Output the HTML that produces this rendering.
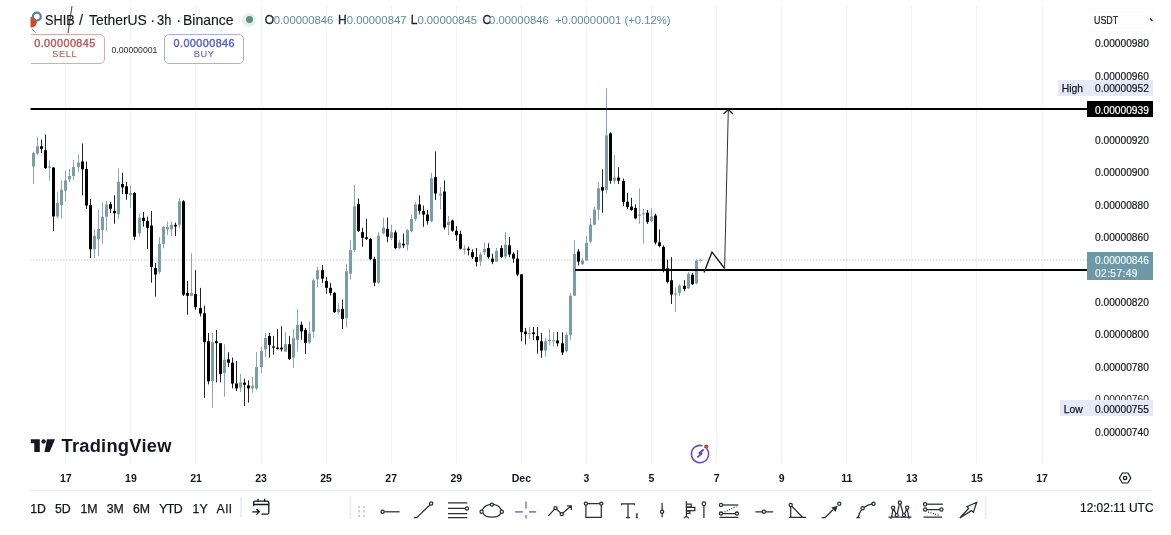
<!DOCTYPE html>
<html><head><meta charset="utf-8">
<style>
*{margin:0;padding:0;box-sizing:border-box}
html,body{width:1171px;height:535px;overflow:hidden;background:#fff}
body{position:relative;font-family:"Liberation Sans",Arial,sans-serif;color:#131722}
.a{position:absolute;white-space:nowrap;line-height:1}
.pl{position:absolute;left:1095px;font-size:10.2px;color:#131722;line-height:1;-webkit-text-stroke:0.2px currentColor}
.tl{position:absolute;top:472.8px;font-size:10.5px;font-weight:bold;color:#131722;line-height:1;transform:translateX(-50%)}
.rb{position:absolute;top:503px;font-size:12.3px;color:#131722;line-height:1;-webkit-text-stroke:0.25px #131722}
.v{color:#5e8d9c}
.hd{top:12.6px;font-size:14.6px;color:#131722;transform-origin:0 0;-webkit-text-stroke:0.15px #131722}
</style></head><body>
<svg class="a" style="left:0;top:0" width="1171" height="535" viewBox="0 0 1171 535">
<defs><clipPath id="cp"><rect x="30.5" y="6" width="1056.5" height="457"/></clipPath></defs>
<g clip-path="url(#cp)">
<rect x="65" y="6" width="1" height="457" fill="#f3f4f6"/>
<rect x="130" y="6" width="1" height="457" fill="#f3f4f6"/>
<rect x="195" y="6" width="1" height="457" fill="#f3f4f6"/>
<rect x="261" y="6" width="1" height="457" fill="#f3f4f6"/>
<rect x="326" y="6" width="1" height="457" fill="#f3f4f6"/>
<rect x="391" y="6" width="1" height="457" fill="#f3f4f6"/>
<rect x="456" y="6" width="1" height="457" fill="#f3f4f6"/>
<rect x="521" y="6" width="1" height="457" fill="#f3f4f6"/>
<rect x="586" y="6" width="1" height="457" fill="#f3f4f6"/>
<rect x="651" y="6" width="1" height="457" fill="#f3f4f6"/>
<rect x="716" y="6" width="1" height="457" fill="#f3f4f6"/>
<rect x="781" y="6" width="1" height="457" fill="#f3f4f6"/>
<rect x="846" y="6" width="1" height="457" fill="#f3f4f6"/>
<rect x="911" y="6" width="1" height="457" fill="#f3f4f6"/>
<rect x="976" y="6" width="1" height="457" fill="#f3f4f6"/>
<rect x="1042" y="6" width="1" height="457" fill="#f3f4f6"/>
<line x1="30" y1="260" x2="1087" y2="260" stroke="#c6c9ce" stroke-width="1" stroke-dasharray="1.5 1.5"/>
<rect x="33" y="151.6" width="1" height="32.4" fill="#8aa9b5"/>
<rect x="32" y="153.0" width="3" height="13.5" fill="#7a9daa"/>
<rect x="37" y="136.8" width="1" height="18.5" fill="#8aa9b5"/>
<rect x="36" y="146.3" width="3" height="7.3" fill="#7a9daa"/>
<rect x="41" y="139.6" width="1" height="13.4" fill="#222"/>
<rect x="40" y="146.3" width="3" height="2.5" fill="#000000"/>
<rect x="45" y="134.5" width="1" height="34.5" fill="#222"/>
<rect x="44" y="150.3" width="3" height="17.9" fill="#000000"/>
<rect x="49" y="160.4" width="1" height="20.2" fill="#8aa9b5"/>
<rect x="48" y="166.5" width="3" height="1.2" fill="#7a9daa"/>
<rect x="53" y="167.0" width="1" height="64.0" fill="#222"/>
<rect x="52" y="167.6" width="3" height="48.8" fill="#000000"/>
<rect x="57" y="191.7" width="1" height="26.8" fill="#8aa9b5"/>
<rect x="56" y="203.0" width="3" height="13.4" fill="#7a9daa"/>
<rect x="61" y="180.4" width="1" height="38.1" fill="#8aa9b5"/>
<rect x="60" y="189.7" width="3" height="15.3" fill="#7a9daa"/>
<rect x="65" y="170.5" width="1" height="30.5" fill="#8aa9b5"/>
<rect x="64" y="180.5" width="3" height="10.2" fill="#7a9daa"/>
<rect x="69" y="169.3" width="1" height="12.7" fill="#8aa9b5"/>
<rect x="68" y="176.0" width="3" height="3.4" fill="#7a9daa"/>
<rect x="73" y="159.8" width="1" height="20.2" fill="#8aa9b5"/>
<rect x="72" y="167.1" width="3" height="8.9" fill="#7a9daa"/>
<rect x="78" y="154.4" width="1" height="17.7" fill="#8aa9b5"/>
<rect x="77" y="162.6" width="3" height="4.2" fill="#7a9daa"/>
<rect x="82" y="143.5" width="1" height="51.9" fill="#222"/>
<rect x="81" y="161.5" width="3" height="7.8" fill="#000000"/>
<rect x="86" y="161.5" width="1" height="47.4" fill="#222"/>
<rect x="85" y="169.0" width="3" height="36.5" fill="#000000"/>
<rect x="90" y="198.8" width="1" height="59.4" fill="#222"/>
<rect x="89" y="205.0" width="3" height="44.3" fill="#000000"/>
<rect x="94" y="229.0" width="1" height="29.2" fill="#8aa9b5"/>
<rect x="93" y="235.8" width="3" height="13.5" fill="#7a9daa"/>
<rect x="98" y="210.0" width="1" height="46.0" fill="#8aa9b5"/>
<rect x="97" y="229.0" width="3" height="10.2" fill="#7a9daa"/>
<rect x="102" y="202.2" width="1" height="41.5" fill="#8aa9b5"/>
<rect x="101" y="216.7" width="3" height="13.5" fill="#7a9daa"/>
<rect x="106" y="201.0" width="1" height="30.3" fill="#8aa9b5"/>
<rect x="105" y="204.4" width="3" height="12.3" fill="#7a9daa"/>
<rect x="110" y="202.0" width="1" height="11.2" fill="#222"/>
<rect x="109" y="204.2" width="3" height="4.5" fill="#000000"/>
<rect x="114" y="195.3" width="1" height="28.4" fill="#222"/>
<rect x="113" y="211.0" width="3" height="2.2" fill="#000000"/>
<rect x="118" y="168.4" width="1" height="50.4" fill="#8aa9b5"/>
<rect x="117" y="181.8" width="3" height="32.5" fill="#7a9daa"/>
<rect x="122" y="172.8" width="1" height="21.3" fill="#222"/>
<rect x="121" y="184.0" width="3" height="3.4" fill="#000000"/>
<rect x="126" y="181.8" width="1" height="18.0" fill="#222"/>
<rect x="125" y="186.3" width="3" height="7.8" fill="#000000"/>
<rect x="130" y="185.2" width="1" height="22.4" fill="#8aa9b5"/>
<rect x="129" y="193.0" width="3" height="2.0" fill="#7a9daa"/>
<rect x="134" y="192.0" width="1" height="48.1" fill="#222"/>
<rect x="133" y="193.0" width="3" height="43.7" fill="#000000"/>
<rect x="139" y="213.2" width="1" height="23.5" fill="#8aa9b5"/>
<rect x="138" y="217.7" width="3" height="15.7" fill="#7a9daa"/>
<rect x="143" y="212.0" width="1" height="14.7" fill="#222"/>
<rect x="142" y="217.7" width="3" height="3.3" fill="#000000"/>
<rect x="147" y="216.6" width="1" height="32.4" fill="#222"/>
<rect x="146" y="221.0" width="3" height="6.8" fill="#000000"/>
<rect x="151" y="211.0" width="1" height="71.7" fill="#222"/>
<rect x="150" y="225.5" width="3" height="41.5" fill="#000000"/>
<rect x="155" y="263.0" width="1" height="33.6" fill="#222"/>
<rect x="154" y="268.1" width="3" height="6.4" fill="#000000"/>
<rect x="159" y="237.2" width="1" height="37.0" fill="#8aa9b5"/>
<rect x="158" y="243.9" width="3" height="28.0" fill="#7a9daa"/>
<rect x="163" y="226.0" width="1" height="22.4" fill="#8aa9b5"/>
<rect x="162" y="227.1" width="3" height="16.8" fill="#7a9daa"/>
<rect x="167" y="221.5" width="1" height="13.4" fill="#8aa9b5"/>
<rect x="166" y="227.1" width="3" height="2.2" fill="#7a9daa"/>
<rect x="171" y="221.5" width="1" height="14.5" fill="#8aa9b5"/>
<rect x="170" y="224.8" width="3" height="4.5" fill="#7a9daa"/>
<rect x="175" y="222.6" width="1" height="13.4" fill="#222"/>
<rect x="174" y="224.8" width="3" height="1.6" fill="#000000"/>
<rect x="179" y="198.0" width="1" height="30.2" fill="#8aa9b5"/>
<rect x="178" y="201.3" width="3" height="23.5" fill="#7a9daa"/>
<rect x="183" y="200.2" width="1" height="95.8" fill="#222"/>
<rect x="182" y="201.3" width="3" height="93.3" fill="#000000"/>
<rect x="187" y="281.1" width="1" height="33.7" fill="#222"/>
<rect x="186" y="292.9" width="3" height="2.9" fill="#000000"/>
<rect x="191" y="253.4" width="1" height="42.9" fill="#8aa9b5"/>
<rect x="190" y="292.9" width="3" height="2.9" fill="#7a9daa"/>
<rect x="195" y="270.2" width="1" height="39.6" fill="#222"/>
<rect x="194" y="294.1" width="3" height="13.1" fill="#000000"/>
<rect x="200" y="287.9" width="1" height="28.6" fill="#222"/>
<rect x="199" y="308.1" width="3" height="5.4" fill="#000000"/>
<rect x="204" y="305.6" width="1" height="92.1" fill="#222"/>
<rect x="203" y="313.3" width="3" height="28.9" fill="#000000"/>
<rect x="208" y="332.9" width="1" height="51.5" fill="#222"/>
<rect x="207" y="341.2" width="3" height="40.1" fill="#000000"/>
<rect x="212" y="332.9" width="1" height="75.1" fill="#8aa9b5"/>
<rect x="211" y="342.2" width="3" height="39.1" fill="#7a9daa"/>
<rect x="216" y="329.8" width="1" height="52.5" fill="#222"/>
<rect x="215" y="341.2" width="3" height="2.0" fill="#000000"/>
<rect x="220" y="343.0" width="1" height="39.3" fill="#222"/>
<rect x="219" y="343.2" width="3" height="30.9" fill="#000000"/>
<rect x="224" y="344.2" width="1" height="52.5" fill="#8aa9b5"/>
<rect x="223" y="359.7" width="3" height="13.3" fill="#7a9daa"/>
<rect x="228" y="352.2" width="1" height="14.8" fill="#222"/>
<rect x="227" y="359.4" width="3" height="3.3" fill="#000000"/>
<rect x="232" y="357.5" width="1" height="30.9" fill="#222"/>
<rect x="231" y="362.7" width="3" height="20.9" fill="#000000"/>
<rect x="236" y="361.0" width="1" height="30.0" fill="#222"/>
<rect x="235" y="383.5" width="3" height="4.9" fill="#000000"/>
<rect x="240" y="374.0" width="1" height="18.0" fill="#8aa9b5"/>
<rect x="239" y="382.3" width="3" height="5.3" fill="#7a9daa"/>
<rect x="244" y="378.6" width="1" height="27.5" fill="#222"/>
<rect x="243" y="382.7" width="3" height="2.1" fill="#000000"/>
<rect x="248" y="380.4" width="1" height="22.2" fill="#222"/>
<rect x="247" y="385.4" width="3" height="3.0" fill="#000000"/>
<rect x="252" y="376.8" width="1" height="16.0" fill="#8aa9b5"/>
<rect x="251" y="385.7" width="3" height="2.7" fill="#7a9daa"/>
<rect x="256" y="352.0" width="1" height="38.0" fill="#8aa9b5"/>
<rect x="255" y="367.1" width="3" height="21.3" fill="#7a9daa"/>
<rect x="261" y="346.6" width="1" height="26.7" fill="#8aa9b5"/>
<rect x="260" y="351.1" width="3" height="16.0" fill="#7a9daa"/>
<rect x="265" y="333.0" width="1" height="24.0" fill="#8aa9b5"/>
<rect x="264" y="338.0" width="3" height="11.4" fill="#7a9daa"/>
<rect x="269" y="332.9" width="1" height="24.7" fill="#222"/>
<rect x="268" y="336.0" width="3" height="8.9" fill="#000000"/>
<rect x="273" y="335.9" width="1" height="18.7" fill="#222"/>
<rect x="272" y="346.4" width="3" height="1.2" fill="#000000"/>
<rect x="277" y="329.2" width="1" height="20.3" fill="#222"/>
<rect x="276" y="347.6" width="3" height="1.2" fill="#000000"/>
<rect x="281" y="326.2" width="1" height="25.4" fill="#222"/>
<rect x="280" y="347.6" width="3" height="1.8" fill="#000000"/>
<rect x="285" y="332.2" width="1" height="19.8" fill="#8aa9b5"/>
<rect x="284" y="344.2" width="3" height="7.4" fill="#7a9daa"/>
<rect x="289" y="335.9" width="1" height="24.1" fill="#222"/>
<rect x="288" y="344.2" width="3" height="14.9" fill="#000000"/>
<rect x="293" y="329.2" width="1" height="38.9" fill="#8aa9b5"/>
<rect x="292" y="338.2" width="3" height="19.4" fill="#7a9daa"/>
<rect x="297" y="309.0" width="1" height="42.6" fill="#8aa9b5"/>
<rect x="296" y="324.7" width="3" height="15.0" fill="#7a9daa"/>
<rect x="301" y="321.7" width="1" height="18.0" fill="#222"/>
<rect x="300" y="324.7" width="3" height="6.7" fill="#000000"/>
<rect x="305" y="328.0" width="1" height="25.9" fill="#222"/>
<rect x="304" y="329.9" width="3" height="13.1" fill="#000000"/>
<rect x="309" y="322.0" width="1" height="22.0" fill="#8aa9b5"/>
<rect x="308" y="333.5" width="3" height="9.0" fill="#7a9daa"/>
<rect x="313" y="278.6" width="1" height="58.9" fill="#8aa9b5"/>
<rect x="312" y="280.3" width="3" height="51.3" fill="#7a9daa"/>
<rect x="317" y="266.8" width="1" height="20.2" fill="#8aa9b5"/>
<rect x="316" y="270.2" width="3" height="9.2" fill="#7a9daa"/>
<rect x="322" y="265.1" width="1" height="17.7" fill="#222"/>
<rect x="321" y="270.2" width="3" height="8.4" fill="#000000"/>
<rect x="326" y="276.9" width="1" height="16.8" fill="#222"/>
<rect x="325" y="281.1" width="3" height="6.7" fill="#000000"/>
<rect x="330" y="282.8" width="1" height="12.6" fill="#222"/>
<rect x="329" y="287.8" width="3" height="5.1" fill="#000000"/>
<rect x="334" y="292.0" width="1" height="21.0" fill="#222"/>
<rect x="333" y="292.9" width="3" height="19.3" fill="#000000"/>
<rect x="338" y="303.0" width="1" height="11.8" fill="#8aa9b5"/>
<rect x="337" y="308.9" width="3" height="3.3" fill="#7a9daa"/>
<rect x="342" y="299.6" width="1" height="29.4" fill="#222"/>
<rect x="341" y="308.9" width="3" height="10.1" fill="#000000"/>
<rect x="346" y="264.0" width="1" height="63.4" fill="#8aa9b5"/>
<rect x="345" y="271.2" width="3" height="46.9" fill="#7a9daa"/>
<rect x="350" y="240.0" width="1" height="39.3" fill="#8aa9b5"/>
<rect x="349" y="250.1" width="3" height="23.6" fill="#7a9daa"/>
<rect x="354" y="185.1" width="1" height="66.9" fill="#8aa9b5"/>
<rect x="353" y="206.4" width="3" height="43.7" fill="#7a9daa"/>
<rect x="358" y="198.5" width="1" height="33.5" fill="#222"/>
<rect x="357" y="204.1" width="3" height="27.0" fill="#000000"/>
<rect x="362" y="227.7" width="1" height="19.0" fill="#222"/>
<rect x="361" y="232.2" width="3" height="5.6" fill="#000000"/>
<rect x="366" y="218.7" width="1" height="21.3" fill="#222"/>
<rect x="365" y="237.3" width="3" height="1.6" fill="#000000"/>
<rect x="370" y="237.8" width="1" height="22.4" fill="#222"/>
<rect x="369" y="238.9" width="3" height="20.2" fill="#000000"/>
<rect x="374" y="256.8" width="1" height="29.2" fill="#222"/>
<rect x="373" y="259.1" width="3" height="23.5" fill="#000000"/>
<rect x="378" y="232.2" width="1" height="51.8" fill="#8aa9b5"/>
<rect x="377" y="235.5" width="3" height="47.1" fill="#7a9daa"/>
<rect x="383" y="217.6" width="1" height="16.8" fill="#8aa9b5"/>
<rect x="382" y="227.7" width="3" height="5.6" fill="#7a9daa"/>
<rect x="387" y="217.6" width="1" height="24.7" fill="#222"/>
<rect x="386" y="228.8" width="3" height="7.9" fill="#000000"/>
<rect x="391" y="224.6" width="1" height="15.4" fill="#8aa9b5"/>
<rect x="390" y="232.3" width="3" height="5.7" fill="#7a9daa"/>
<rect x="395" y="230.2" width="1" height="19.1" fill="#222"/>
<rect x="394" y="232.4" width="3" height="15.7" fill="#000000"/>
<rect x="399" y="240.3" width="1" height="9.0" fill="#8aa9b5"/>
<rect x="398" y="242.5" width="3" height="5.6" fill="#7a9daa"/>
<rect x="403" y="233.6" width="1" height="14.5" fill="#222"/>
<rect x="402" y="243.7" width="3" height="1.7" fill="#000000"/>
<rect x="407" y="229.1" width="1" height="21.3" fill="#8aa9b5"/>
<rect x="406" y="230.2" width="3" height="14.6" fill="#7a9daa"/>
<rect x="411" y="214.5" width="1" height="17.9" fill="#8aa9b5"/>
<rect x="410" y="219.0" width="3" height="12.3" fill="#7a9daa"/>
<rect x="415" y="202.2" width="1" height="19.0" fill="#8aa9b5"/>
<rect x="414" y="204.4" width="3" height="14.6" fill="#7a9daa"/>
<rect x="419" y="195.4" width="1" height="19.1" fill="#222"/>
<rect x="418" y="204.4" width="3" height="6.7" fill="#000000"/>
<rect x="423" y="205.5" width="1" height="21.3" fill="#222"/>
<rect x="422" y="211.1" width="3" height="3.4" fill="#000000"/>
<rect x="427" y="210.0" width="1" height="14.6" fill="#222"/>
<rect x="426" y="214.5" width="3" height="6.7" fill="#000000"/>
<rect x="431" y="173.0" width="1" height="49.4" fill="#8aa9b5"/>
<rect x="430" y="178.3" width="3" height="42.9" fill="#7a9daa"/>
<rect x="435" y="151.4" width="1" height="48.6" fill="#222"/>
<rect x="434" y="177.2" width="3" height="16.3" fill="#000000"/>
<rect x="440" y="187.0" width="1" height="22.4" fill="#8aa9b5"/>
<rect x="439" y="193.7" width="3" height="1.8" fill="#7a9daa"/>
<rect x="444" y="180.3" width="1" height="49.3" fill="#222"/>
<rect x="443" y="191.5" width="3" height="35.9" fill="#000000"/>
<rect x="448" y="216.1" width="1" height="19.1" fill="#8aa9b5"/>
<rect x="447" y="221.7" width="3" height="3.4" fill="#7a9daa"/>
<rect x="452" y="219.5" width="1" height="12.3" fill="#222"/>
<rect x="451" y="220.6" width="3" height="10.1" fill="#000000"/>
<rect x="456" y="226.2" width="1" height="14.6" fill="#222"/>
<rect x="455" y="230.7" width="3" height="4.5" fill="#000000"/>
<rect x="460" y="230.7" width="1" height="18.8" fill="#222"/>
<rect x="459" y="234.1" width="3" height="14.6" fill="#000000"/>
<rect x="464" y="245.3" width="1" height="9.0" fill="#8aa9b5"/>
<rect x="463" y="248.7" width="3" height="1.2" fill="#7a9daa"/>
<rect x="468" y="246.4" width="1" height="9.0" fill="#222"/>
<rect x="467" y="248.7" width="3" height="1.5" fill="#000000"/>
<rect x="472" y="249.3" width="1" height="9.7" fill="#222"/>
<rect x="471" y="252.2" width="3" height="5.0" fill="#000000"/>
<rect x="476" y="248.0" width="1" height="18.5" fill="#222"/>
<rect x="475" y="257.0" width="3" height="5.0" fill="#000000"/>
<rect x="480" y="252.3" width="1" height="14.0" fill="#8aa9b5"/>
<rect x="479" y="254.4" width="3" height="7.0" fill="#7a9daa"/>
<rect x="484" y="242.5" width="1" height="12.6" fill="#8aa9b5"/>
<rect x="483" y="248.8" width="3" height="3.5" fill="#7a9daa"/>
<rect x="488" y="243.2" width="1" height="15.4" fill="#222"/>
<rect x="487" y="248.1" width="3" height="9.1" fill="#000000"/>
<rect x="492" y="253.7" width="1" height="10.5" fill="#222"/>
<rect x="491" y="258.6" width="3" height="3.1" fill="#000000"/>
<rect x="496" y="248.1" width="1" height="13.6" fill="#8aa9b5"/>
<rect x="495" y="250.9" width="3" height="10.8" fill="#7a9daa"/>
<rect x="501" y="245.3" width="1" height="12.6" fill="#222"/>
<rect x="500" y="248.1" width="3" height="8.8" fill="#000000"/>
<rect x="505" y="232.0" width="1" height="26.6" fill="#8aa9b5"/>
<rect x="504" y="244.6" width="3" height="11.9" fill="#7a9daa"/>
<rect x="509" y="236.9" width="1" height="20.3" fill="#222"/>
<rect x="508" y="245.3" width="3" height="9.1" fill="#000000"/>
<rect x="513" y="252.3" width="1" height="10.5" fill="#222"/>
<rect x="512" y="253.7" width="3" height="4.9" fill="#000000"/>
<rect x="517" y="250.2" width="1" height="25.9" fill="#222"/>
<rect x="516" y="258.6" width="3" height="15.9" fill="#000000"/>
<rect x="521" y="274.0" width="1" height="67.3" fill="#222"/>
<rect x="520" y="274.4" width="3" height="57.6" fill="#000000"/>
<rect x="525" y="327.9" width="1" height="16.5" fill="#222"/>
<rect x="524" y="331.6" width="3" height="2.5" fill="#000000"/>
<rect x="529" y="326.9" width="1" height="12.3" fill="#8aa9b5"/>
<rect x="528" y="333.0" width="3" height="1.2" fill="#7a9daa"/>
<rect x="533" y="326.9" width="1" height="13.3" fill="#222"/>
<rect x="532" y="332.4" width="3" height="1.7" fill="#000000"/>
<rect x="537" y="326.9" width="1" height="26.7" fill="#222"/>
<rect x="536" y="336.1" width="3" height="4.1" fill="#000000"/>
<rect x="541" y="333.0" width="1" height="24.7" fill="#222"/>
<rect x="540" y="341.3" width="3" height="9.2" fill="#000000"/>
<rect x="545" y="338.2" width="1" height="18.5" fill="#8aa9b5"/>
<rect x="544" y="341.3" width="3" height="9.2" fill="#7a9daa"/>
<rect x="549" y="328.9" width="1" height="16.5" fill="#8aa9b5"/>
<rect x="548" y="339.8" width="3" height="1.2" fill="#7a9daa"/>
<rect x="553" y="332.0" width="1" height="14.4" fill="#8aa9b5"/>
<rect x="552" y="340.2" width="3" height="1.2" fill="#7a9daa"/>
<rect x="557" y="332.0" width="1" height="14.4" fill="#222"/>
<rect x="556" y="340.5" width="3" height="2.8" fill="#000000"/>
<rect x="562" y="332.3" width="1" height="22.7" fill="#222"/>
<rect x="561" y="343.3" width="3" height="9.2" fill="#000000"/>
<rect x="566" y="332.3" width="1" height="20.2" fill="#8aa9b5"/>
<rect x="565" y="334.8" width="3" height="16.5" fill="#7a9daa"/>
<rect x="570" y="293.2" width="1" height="46.7" fill="#8aa9b5"/>
<rect x="569" y="295.7" width="3" height="39.1" fill="#7a9daa"/>
<rect x="574" y="240.2" width="1" height="55.8" fill="#8aa9b5"/>
<rect x="573" y="254.0" width="3" height="41.7" fill="#7a9daa"/>
<rect x="578" y="249.0" width="1" height="16.4" fill="#222"/>
<rect x="577" y="251.5" width="3" height="10.1" fill="#000000"/>
<rect x="582" y="257.8" width="1" height="7.2" fill="#8aa9b5"/>
<rect x="581" y="260.4" width="3" height="3.7" fill="#7a9daa"/>
<rect x="586" y="235.9" width="1" height="25.1" fill="#8aa9b5"/>
<rect x="585" y="242.7" width="3" height="17.7" fill="#7a9daa"/>
<rect x="590" y="217.9" width="1" height="25.5" fill="#8aa9b5"/>
<rect x="589" y="224.6" width="3" height="17.0" fill="#7a9daa"/>
<rect x="594" y="206.7" width="1" height="18.7" fill="#8aa9b5"/>
<rect x="593" y="209.7" width="3" height="14.9" fill="#7a9daa"/>
<rect x="598" y="181.7" width="1" height="38.4" fill="#8aa9b5"/>
<rect x="597" y="188.3" width="3" height="21.4" fill="#7a9daa"/>
<rect x="602" y="169.4" width="1" height="43.3" fill="#222"/>
<rect x="601" y="187.0" width="3" height="3.6" fill="#000000"/>
<rect x="606" y="88.1" width="1" height="104.9" fill="#8aa9b5"/>
<rect x="605" y="135.4" width="3" height="54.6" fill="#7a9daa"/>
<rect x="610" y="132.3" width="1" height="51.5" fill="#222"/>
<rect x="609" y="133.4" width="3" height="47.3" fill="#000000"/>
<rect x="614" y="155.0" width="1" height="28.8" fill="#8aa9b5"/>
<rect x="613" y="177.6" width="3" height="3.1" fill="#7a9daa"/>
<rect x="618" y="167.3" width="1" height="16.7" fill="#222"/>
<rect x="617" y="177.6" width="3" height="3.1" fill="#000000"/>
<rect x="623" y="178.6" width="1" height="27.3" fill="#222"/>
<rect x="622" y="181.0" width="3" height="21.0" fill="#000000"/>
<rect x="627" y="193.1" width="1" height="15.9" fill="#222"/>
<rect x="626" y="201.8" width="3" height="5.3" fill="#000000"/>
<rect x="631" y="197.8" width="1" height="13.0" fill="#222"/>
<rect x="630" y="206.5" width="3" height="3.4" fill="#000000"/>
<rect x="635" y="204.3" width="1" height="15.0" fill="#222"/>
<rect x="634" y="208.0" width="3" height="10.3" fill="#000000"/>
<rect x="639" y="188.4" width="1" height="35.5" fill="#8aa9b5"/>
<rect x="638" y="214.6" width="3" height="1.2" fill="#7a9daa"/>
<rect x="643" y="209.0" width="1" height="34.6" fill="#8aa9b5"/>
<rect x="642" y="213.3" width="3" height="1.2" fill="#7a9daa"/>
<rect x="647" y="209.9" width="1" height="14.0" fill="#222"/>
<rect x="646" y="212.7" width="3" height="9.4" fill="#000000"/>
<rect x="651" y="208.0" width="1" height="14.1" fill="#8aa9b5"/>
<rect x="650" y="216.4" width="3" height="4.7" fill="#7a9daa"/>
<rect x="655" y="213.6" width="1" height="30.9" fill="#222"/>
<rect x="654" y="215.5" width="3" height="27.1" fill="#000000"/>
<rect x="659" y="229.5" width="1" height="17.8" fill="#222"/>
<rect x="658" y="242.3" width="3" height="3.7" fill="#000000"/>
<rect x="663" y="245.3" width="1" height="27.0" fill="#222"/>
<rect x="662" y="246.9" width="3" height="22.2" fill="#000000"/>
<rect x="667" y="259.6" width="1" height="23.8" fill="#222"/>
<rect x="666" y="268.3" width="3" height="13.5" fill="#000000"/>
<rect x="671" y="257.2" width="1" height="46.8" fill="#222"/>
<rect x="670" y="280.2" width="3" height="14.3" fill="#000000"/>
<rect x="675" y="287.4" width="1" height="24.6" fill="#8aa9b5"/>
<rect x="674" y="293.4" width="3" height="1.2" fill="#7a9daa"/>
<rect x="679" y="284.2" width="1" height="11.9" fill="#8aa9b5"/>
<rect x="678" y="285.8" width="3" height="7.1" fill="#7a9daa"/>
<rect x="684" y="280.2" width="1" height="11.1" fill="#222"/>
<rect x="683" y="285.8" width="3" height="3.2" fill="#000000"/>
<rect x="688" y="272.3" width="1" height="16.7" fill="#8aa9b5"/>
<rect x="687" y="273.9" width="3" height="14.3" fill="#7a9daa"/>
<rect x="692" y="273.1" width="1" height="11.9" fill="#222"/>
<rect x="691" y="274.7" width="3" height="9.5" fill="#000000"/>
<rect x="696" y="259.5" width="1" height="24.7" fill="#8aa9b5"/>
<rect x="695" y="260.5" width="3" height="22.9" fill="#7a9daa"/>
<rect x="30" y="108" width="1057" height="2" fill="#000"/>
<rect x="575" y="269" width="512" height="2" fill="#000"/>
<polyline points="704,272.5 712,252 724.6,268.5" fill="none" stroke="#111" stroke-width="1.3"/>
<line x1="724.6" y1="268.5" x2="728.3" y2="110" stroke="#333" stroke-width="1"/>
<polyline points="723.5,114 728.3,109.5 733,114" fill="none" stroke="#222" stroke-width="1.3"/>
<line x1="72" y1="6" x2="68" y2="33" stroke="#444" stroke-width="1"/>
<path d="M698.5 260.5H702.5M700.5 258.5V262.5" stroke="#b0b4ba" stroke-width="1"/>
</g>
<!-- logo circles -->
<g clip-path="url(#cp)">
<circle cx="36.8" cy="16.6" r="4" fill="none" stroke="#4f8a92" stroke-width="2.2"/>
<circle cx="31.6" cy="22.3" r="5.2" fill="#c4502f"/>
<line x1="31.8" y1="28.9" x2="35.7" y2="32.8" stroke="#6f9aa3" stroke-width="1"/>
</g>
</svg>

<div class="a hd" style="left:44.6px;transform:scaleX(0.87)">SHIB</div>
<div class="a hd" style="left:79px">/</div>
<div class="a hd" style="left:89.4px;transform:scaleX(0.95)">TetherUS</div>
<div class="a hd" style="left:150.2px">·</div>
<div class="a hd" style="left:157.3px;transform:scaleX(0.88)">3h</div>
<div class="a hd" style="left:176.2px">·</div>
<div class="a hd" style="left:183.3px;transform:scaleX(0.96)">Binance</div>
<div class="a" style="left:242.4px;top:12.5px;width:14px;height:14px;border-radius:50%;background:#e4f1ed"></div>
<div class="a" style="left:245.8px;top:15.9px;width:7.2px;height:7.2px;border-radius:50%;background:#5a8f7e"></div>

<div class="a" style="left:264.7px;top:14.2px;font-size:12px;color:#1e222d;-webkit-text-stroke:0.3px #1e222d">O</div>
<div class="a v" style="left:273.7px;top:14.8px;font-size:11.3px">0.00000846</div>
<div class="a" style="left:338px;top:14.2px;font-size:12px;color:#1e222d;-webkit-text-stroke:0.3px #1e222d">H</div>
<div class="a v" style="left:346.8px;top:14.8px;font-size:11.3px">0.00000847</div>
<div class="a" style="left:410.8px;top:14.2px;font-size:12px;color:#1e222d;-webkit-text-stroke:0.3px #1e222d">L</div>
<div class="a v" style="left:417.4px;top:14.8px;font-size:11.3px">0.00000845</div>
<div class="a" style="left:482.5px;top:14.2px;font-size:12px;color:#1e222d;-webkit-text-stroke:0.3px #1e222d">C</div>
<div class="a v" style="left:489.1px;top:14.8px;font-size:11.3px">0.00000846</div>
<div class="a v" style="left:555px;top:14.8px;font-size:11.3px">+0.00000001 (+0.12%)</div>

<!-- sell / buy -->
<div class="a" style="left:30.5px;top:33px;width:80px;height:32px;overflow:hidden">
<div class="a" style="left:-5.5px;top:1px;width:79.5px;height:30px;border:1px solid #e0a9a9;border-radius:5px;background:#fff"></div>
<div class="a" style="left:-5.5px;top:4.5px;width:79.5px;text-align:center;font-size:10.8px;letter-spacing:0.45px;text-indent:0.45px;color:#bf5a5c;-webkit-text-stroke:0.45px #bf5a5c">0.00000845</div>
<div class="a" style="left:-5.5px;top:16.5px;width:79.5px;text-align:center;font-size:9.2px;color:#b5585a;letter-spacing:0.6px;-webkit-text-stroke:0.12px #b5585a">SELL</div>
</div>
<div class="a" style="left:111.5px;top:45.6px;font-size:8.7px;color:#2a2e39">0.00000001</div>
<div class="a" style="left:164.3px;top:34px;width:79.5px;height:30px;border:1px solid #a9aef0;border-radius:5px;background:#fff"></div>
<div class="a" style="left:164.3px;top:37.5px;width:79.5px;text-align:center;font-size:10.8px;letter-spacing:0.45px;text-indent:0.45px;color:#5a63d6;-webkit-text-stroke:0.45px #5a63d6">0.00000846</div>
<div class="a" style="left:164.3px;top:49.5px;width:79.5px;text-align:center;font-size:9.2px;color:#5a63d6;letter-spacing:0.6px;-webkit-text-stroke:0.12px #5a63d6">BUY</div>

<!-- price axis -->
<div class="a" style="left:1089.5px;top:8.5px;width:63px;height:22px;border-radius:4px;background:#fff;box-shadow:0 0 2px rgba(0,0,0,0.07)"></div>
<div class="a" style="left:1094.4px;top:15.1px;font-size:10.6px;color:#131722;transform:scaleX(0.84);transform-origin:0 0;-webkit-text-stroke:0.2px #131722">USDT</div>
<svg class="a" style="left:1149px;top:17px" width="6" height="6" viewBox="0 0 6 6"><path d="M1 1.5L3.5 4" stroke="#131722" stroke-width="1.2" fill="none"/></svg>
<div class="pl" style="top:38.8px">0.00000980</div>
<div class="pl" style="top:72px">0.00000960</div>
<div class="a" style="left:1058px;top:80.3px;width:95px;height:15.5px;background:#e6e9f7"></div>
<div class="a" style="left:1061.8px;top:84px;font-size:10.3px;color:#131722;-webkit-text-stroke:0.25px #131722">High</div>
<div class="pl" style="top:84px">0.00000952</div>
<div class="a" style="left:1087px;top:101.2px;width:66px;height:15.4px;background:#000"></div>
<div class="pl" style="top:105.5px;color:#fff">0.00000939</div>
<div class="pl" style="top:136px">0.00000920</div>
<div class="pl" style="top:168.4px">0.00000900</div>
<div class="pl" style="top:200.8px">0.00000880</div>
<div class="pl" style="top:233.2px">0.00000860</div>
<div class="a" style="left:1087px;top:252.2px;width:66px;height:28px;background:#6e98a6"></div>
<div class="pl" style="top:256px;color:#eef6f8">0.00000846</div>
<div class="pl" style="top:269px;color:#eef6f8;letter-spacing:0.4px">02:57:49</div>
<div class="pl" style="top:298px">0.00000820</div>
<div class="pl" style="top:330.4px">0.00000800</div>
<div class="pl" style="top:362.8px">0.00000780</div>
<div class="a" style="left:1095px;top:395.2px;height:4.8px;overflow:hidden;font-size:10.2px">0.00000760</div>
<div class="a" style="left:1059.8px;top:400px;width:93.2px;height:15.8px;background:#e6e9f7"></div>
<div class="a" style="left:1063.8px;top:404.5px;font-size:10.3px;color:#131722;-webkit-text-stroke:0.25px #131722">Low</div>
<div class="pl" style="top:404.6px">0.00000755</div>
<div class="pl" style="top:427.5px">0.00000740</div>

<!-- tradingview logo -->
<svg class="a" style="left:30px;top:438px" width="26" height="15" viewBox="0 0 26 15">
<path d="M0.8 1.2H9.8V14H4.3V5.2H0.8Z" fill="#131722"/>
<circle cx="13.6" cy="3.4" r="2.2" fill="#131722"/>
<path d="M17 1.2H25L19.6 14H14.5Z" fill="#131722"/>
</svg>
<div class="a" style="left:61.5px;top:437px;font-size:18.3px;font-weight:bold;color:#131722;letter-spacing:0.25px">TradingView</div>

<!-- time axis -->
<div class="tl" style="left:65.8px">17</div>
<div class="tl" style="left:130.9px">19</div>
<div class="tl" style="left:196px">21</div>
<div class="tl" style="left:261px">23</div>
<div class="tl" style="left:326.1px">25</div>
<div class="tl" style="left:391.2px">27</div>
<div class="tl" style="left:456.3px">29</div>
<div class="tl" style="left:521.4px">Dec</div>
<div class="tl" style="left:586.4px">3</div>
<div class="tl" style="left:651.5px">5</div>
<div class="tl" style="left:716.6px">7</div>
<div class="tl" style="left:781.7px">9</div>
<div class="tl" style="left:846.8px">11</div>
<div class="tl" style="left:911.8px">13</div>
<div class="tl" style="left:976.9px">15</div>
<div class="tl" style="left:1042px">17</div>
<svg class="a" style="left:1117px;top:470px" width="16" height="16" viewBox="0 0 16 16">
<path d="M5.3 3H10.9L13.8 8L10.9 13H5.3L2.4 8Z" fill="none" stroke="#131722" stroke-width="1.2"/>
<circle cx="8.1" cy="8" r="1.7" fill="none" stroke="#131722" stroke-width="1.3"/>
</svg>
<!-- lightning -->
<svg class="a" style="left:688px;top:442px" width="24" height="24" viewBox="0 0 24 24">
<path d="M18.6 6.5A8.6 8.6 0 1 1 14.5 3.8" fill="none" stroke="#6a4fc2" stroke-width="1.6"/>
<polyline points="15.8,7.4 11,11.3 14,11.3 9.3,15.4" fill="none" stroke="#5d4fc6" stroke-width="1.9" stroke-linejoin="bevel"/>
<circle cx="18.2" cy="4.6" r="2.2" fill="#c84a3a"/>
</svg>

<div class="a" style="left:30px;top:490px;width:1122px;height:1px;background:#eceef2"></div>

<!-- bottom range buttons -->
<div class="rb" style="left:30.2px">1D</div>
<div class="rb" style="left:55px">5D</div>
<div class="rb" style="left:80.5px">1M</div>
<div class="rb" style="left:106.7px">3M</div>
<div class="rb" style="left:133px">6M</div>
<div class="rb" style="left:159.2px;letter-spacing:-0.6px">YTD</div>
<div class="rb" style="left:192.6px">1Y</div>
<div class="rb" style="left:216.5px;letter-spacing:0.8px">All</div>
<div class="a" style="left:239.5px;top:496.5px;width:2px;height:20.5px;background:#eceef1"></div>
<svg class="a" style="left:251px;top:498px" width="20" height="18" viewBox="0 0 20 18">
<path d="M2.6 8V4.6Q2.6 3.1 4.1 3.1H16.3Q17.8 3.1 17.8 4.6V14.7Q17.8 16.2 16.3 16.2H10.4" fill="none" stroke="#131722" stroke-width="1.3"/>
<path d="M2.6 6.5H17.8M7 0.7V3.8M13.6 0.7V3.8" fill="none" stroke="#131722" stroke-width="1.3"/>
<path d="M1.3 13.8H8M5.5 11L8.2 13.8L5.5 16.6" fill="none" stroke="#131722" stroke-width="1.3"/>
</svg>
<div class="a" style="left:1080px;top:502px;font-size:12.4px;color:#131722;-webkit-text-stroke:0.2px #131722;transform:scaleX(0.965);transform-origin:0 0">12:02:11 UTC</div>

<!-- drawing toolbar -->
<svg class="a" style="left:340px;top:490px" width="660" height="40" viewBox="340 490 660 40">
<rect x="349.2" y="496" width="2" height="23" fill="#eef0f3"/>
<rect x="984.8" y="496" width="2" height="23" fill="#eef0f3"/>
<g fill="#c5c8ce">
<circle cx="359" cy="507" r="1.1"/><circle cx="364.1" cy="507" r="1.1"/>
<circle cx="359" cy="511.4" r="1.1"/><circle cx="364.1" cy="511.4" r="1.1"/>
<circle cx="359" cy="516" r="1.1"/><circle cx="364.1" cy="516" r="1.1"/>
</g>
<g fill="none" stroke="#2a2e39" stroke-width="1.25">
<!-- horizontal ray -->
<circle cx="382.6" cy="511.8" r="1.6"/><path d="M384.2 511.8H399.6"/>
<!-- trendline -->
<path d="M417 517.4L430 504.8M413.8 517.6H417.2"/><circle cx="431.2" cy="503.5" r="1.6"/>
<!-- fib -->
<path d="M448 502.8H467.3M448 508.4H465.5M448 513.6H467.3M448 517.5H467.3"/><circle cx="467" cy="508.4" r="1.6"/>
<!-- ellipse -->
<path d="M482 510.3Q485 505 490.4 504.4M493.4 504.4Q499 505 501.5 510.3M483 513.3Q485 517.2 492 517.2Q499 517.2 500.6 513.3"/>
<circle cx="481.6" cy="511.8" r="1.6"/><circle cx="491.9" cy="504.6" r="1.6"/><circle cx="501.8" cy="511.8" r="1.6"/>
<!-- path -->
<path d="M548.4 515.9L554.5 509.2M556.5 509.3L560.8 513M562.7 513.2L571.3 505.7M567 505.8H571.3V510"/>
<circle cx="555.5" cy="508.1" r="1.6"/><circle cx="561.7" cy="514.1" r="1.6"/>
<!-- rectangle -->
<path d="M585.9 505.2V517.3H601.3V505.2M587.5 503.6H599.7"/>
<circle cx="585.9" cy="503.6" r="1.6"/><circle cx="601.3" cy="503.6" r="1.6"/>
<!-- text -->
<path d="M621.5 505.2V503.8H634.5V505.2M628 503.8V517.7M626 517.7H630"/>
<path d="M636.8 514V517.6M635.8 514H637.8M635.8 517.6H637.8"/>
<!-- vertical line -->
<path d="M662.1 502.7V510.2M662.1 513.4V517.3"/><circle cx="662.1" cy="511.8" r="1.6"/>
<!-- flag -->
<path d="M686.4 501.3V517M686.4 504.2H691.2V506.9H686.4M686.4 507.4H694.8V510.6H686.4M686.4 511H689.9V513.3H686.4"/>
<path d="M684 518.3Q686.4 514.8 688.8 518.3"/>
<!-- pin -->
<circle cx="703.9" cy="503.7" r="1.8"/><path d="M703.9 505.5V518"/>
<!-- long position -->
<circle cx="721" cy="505" r="1.6"/><path d="M722.6 505H738.3"/>
<circle cx="721" cy="513.6" r="1.6"/><circle cx="737" cy="513.6" r="1.6"/><path d="M722.6 513.6H735.4M719.5 517.4H738.3"/>
<path d="M724.5 512L736.5 506.5" stroke-dasharray="1 1.5"/>
<!-- horizontal line -->
<path d="M755.4 511.8H762.3M765.5 511.8H773.2"/><circle cx="763.9" cy="511.8" r="1.6"/>
<!-- triangle -->
<circle cx="790.7" cy="505" r="1.6"/><path d="M790.7 506.6V517.3M791.8 506.2L802.5 517.3M789 517.3H806"/>
<!-- arrow marker -->
<path d="M825.2 517.5L833 509.8M821.6 517.6H825.4"/><circle cx="839.3" cy="503.7" r="1.6"/>
<!-- curve -->
<path d="M858.1 517.5Q859.3 512.5 861.5 509.8M856.4 517.6H859.8M864 507.6Q868 504.7 872.3 503.9"/><circle cx="862.6" cy="508.2" r="1.6"/><circle cx="873.5" cy="503.7" r="1.6"/>
<!-- pattern -->
<path d="M888.5 517.1H911.5M891 517.1V518.8M909 517.1V518.8M893 509.3L891.6 517.1M907.3 509.3L908.7 517.1M893.8 509.4L896 513.7M897.3 513.6L899.3 504.1M900.5 504.1L903.1 513.6M904.6 513.7L906.6 509.4"/>
<circle cx="893.1" cy="507.7" r="1.6"/><circle cx="899.9" cy="502.5" r="1.6"/><circle cx="907.2" cy="507.7" r="1.6"/><circle cx="896.7" cy="515.2" r="1.5"/><circle cx="903.9" cy="515.2" r="1.5"/>
<!-- fib 2 -->
<circle cx="925.1" cy="504.2" r="1.6"/><path d="M926.7 504.2H943"/>
<circle cx="925.1" cy="509.5" r="1.6"/><circle cx="941.4" cy="509.5" r="1.6"/><path d="M926.7 509.5H939.8M923.5 517.2H942"/>
<path d="M928 512L940 515.5" stroke-dasharray="1 1.5"/>
<!-- arrow -->
<path d="M959.8 518L968.6 508.4L967 506.6L976.7 502.3L973.4 512.2L971.4 510.6Z"/>
</g>
<path d="M837.6 505.7L831.3 507.6L835.7 512Z" fill="#2a2e39"/>
<!-- crosshair -->
<g stroke="#7f85cf" stroke-width="1.6" fill="none">
<path d="M515.2 511.9H522.9M529 511.9H536.1M526 501.6V508.6M526 515V518.5"/>
</g>
</svg>
</body></html>
